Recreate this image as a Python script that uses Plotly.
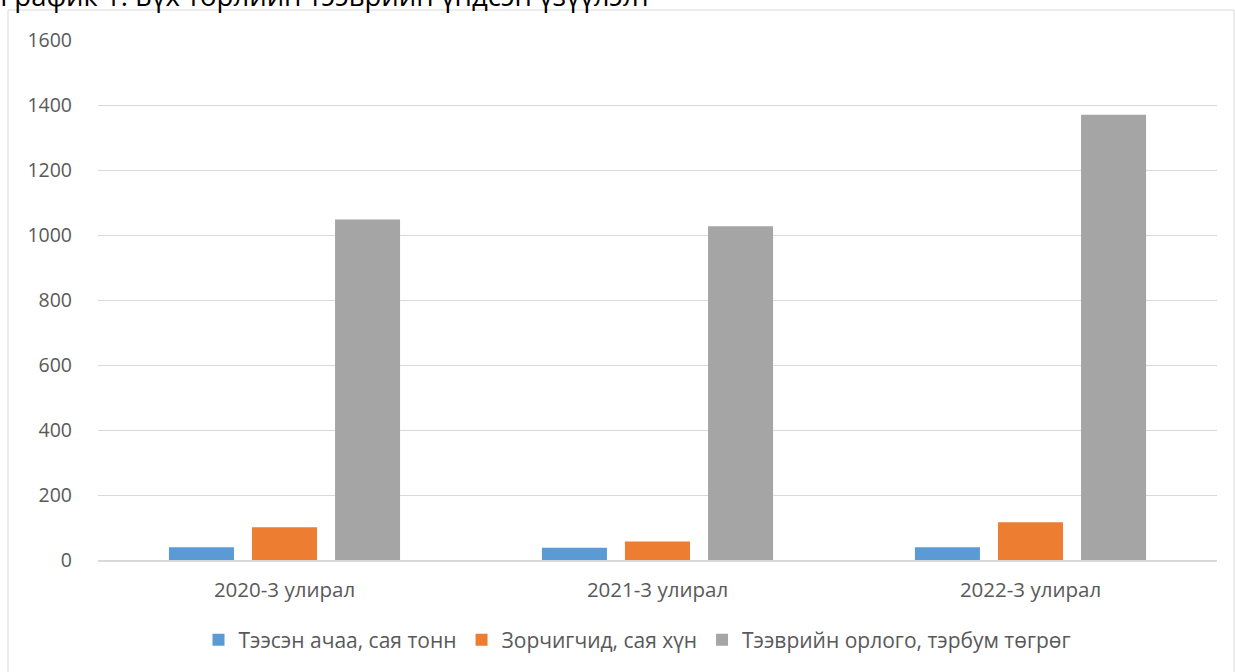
import plotly.graph_objects as go

categories = ["2020-3 улирал", "2021-3 улирал", "2022-3 улирал"]
series_names = ["Тээсэн ачаа, сая тонн", "Зорчигчид, сая хүн", "Тээврийн орлого, тэрбум төгрөг"]
cargo = [39, 37.5, 39]
passengers = [101, 57, 116]
revenue = [1048, 1027, 1370]
colors = ["#5b9bd5", "#ed7d31", "#a5a5a5"]
y_ticks = [0, 200, 400, 600, 800, 1000, 1200, 1400, 1600]
title_text = "График 1. Бүх төрлийн тээврийн үндсэн үзүүлэлт"

W, H = 1235, 672
L, R, T, B = 98, 18, 40, 112
pw = W - L - R
ph = H - T - B


def px_x(p):
    return (p - L) / pw


def px_y(p):
    return (T + ph - p) / ph


fig = go.Figure()
for name, vals, col in zip(series_names, [cargo, passengers, revenue], colors):
    fig.add_trace(go.Bar(x=categories, y=vals, name=name, marker=dict(color=col, line=dict(width=0))))

font_fam = "Open Sans, Noto Sans, Liberation Sans, sans-serif"

fig.update_layout(
    width=W, height=H,
    margin=dict(l=L, r=R, t=T, b=B, autoexpand=False),
    paper_bgcolor="white", plot_bgcolor="white",
    barmode="group", bargap=0.332, bargroupgap=0.217,
    font=dict(family=font_fam, size=18, color="#595959"),
    xaxis=dict(showgrid=False, ticks="", showline=True, linecolor="#d9d9d9", linewidth=1.5,
               tickfont=dict(size=20.5, color="#595959"), ticklabelstandoff=11),
    yaxis=dict(range=[0, 1600], tickvals=y_ticks, showgrid=True, gridcolor="#d9d9d9", gridwidth=1,
               zeroline=False, showline=False, ticks="", tickfont=dict(size=19.5, color="#595959"),
               ticklabelstandoff=25),
    legend=dict(orientation="h", x=px_x(637), xanchor="center", y=px_y(640), yanchor="middle",
                font=dict(size=21, color="#595959"), itemwidth=30, traceorder="normal"),
    showlegend=True,
)

# chart frame
fig.add_shape(type="rect", xref="paper", yref="paper",
              x0=px_x(8), x1=px_x(1234), y0=px_y(720), y1=px_y(10),
              line=dict(color="#d9d9d9", width=1), fillcolor="rgba(0,0,0,0)", layer="below")

fig.add_annotation(text=title_text, xref="paper", yref="paper",
                   x=px_x(-2), xanchor="left", y=px_y(-5), yanchor="middle",
                   showarrow=False, font=dict(size=27.5, color="#000000", family=font_fam))

fig.write_html("out.html", config={"displayModeBar": False},
               post_script="document.body.style.margin='0';document.body.style.overflow='hidden';")
